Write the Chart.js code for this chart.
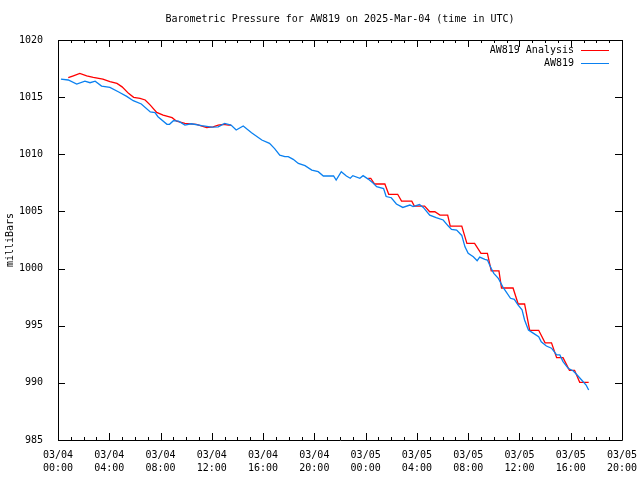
<!DOCTYPE html>
<html>
<head>
<meta charset="utf-8">
<script src="https://cdn.jsdelivr.net/npm/chart.js@4"></script>
<style>
  html, body { margin: 0; padding: 0; background: #fff; }
  #wrap { width: 640px; height: 480px; }
</style>
</head>
<body>
<div id="wrap"><canvas id="myChart" width="640" height="480"></canvas></div>
<script>
// Horas desde 03/04 00:00 UTC e pressão (mb)
const stationHours = [0.23, 0.8, 1.46, 2.1, 2.5, 2.9, 3.4, 4.05, 4.7, 5.36, 5.87, 6.5, 7.2, 7.57, 7.8, 8.5, 8.7, 9.0, 9.4, 9.9,
  10.4, 11.2, 12.0, 12.5, 13.0, 13.5, 13.9, 14.45, 15.1, 15.9, 16.5, 16.9, 17.3, 17.7, 17.96, 18.35, 18.75, 19.27, 19.8, 20.3,
  20.7, 21.2, 21.5, 21.7, 22.1, 22.5, 22.8, 23.0, 23.55, 23.8, 24.2, 24.6, 24.86, 25.4, 25.6, 26.0, 26.4, 26.9, 27.45, 27.7,
  28.2, 28.5, 29.0, 29.5, 30.05, 30.45, 30.7, 31.1, 31.5, 31.75, 32.0, 32.4, 32.7, 32.9, 33.3, 33.5, 33.8, 34.0, 34.35, 34.7,
  35.3, 35.6, 35.9, 36.2, 36.4, 36.7, 37.1, 37.5, 37.7, 38.1, 38.5, 38.9, 39.15, 39.4, 39.8, 40.2, 40.5, 40.85, 41.2, 41.4];
const stationPressure = [1016.58, 1016.5, 1016.15, 1016.4, 1016.26, 1016.4, 1015.97, 1015.86, 1015.47, 1015.07, 1014.69, 1014.4, 1013.7, 1013.64, 1013.29, 1012.62, 1012.62, 1012.94, 1012.9, 1012.56,
  1012.67, 1012.5, 1012.38, 1012.4, 1012.7, 1012.56, 1012.12, 1012.47, 1011.89, 1011.25, 1010.96, 1010.5, 1009.93, 1009.8, 1009.8, 1009.56, 1009.2, 1009.0, 1008.62, 1008.48,
  1008.1, 1008.1, 1008.1, 1007.75, 1008.48, 1008.1, 1007.9, 1008.13, 1007.9, 1008.13, 1007.83, 1007.46, 1007.16, 1007.0, 1006.3, 1006.2, 1005.65, 1005.35, 1005.56, 1005.42,
  1005.6, 1005.35, 1004.68, 1004.45, 1004.25, 1003.72, 1003.43, 1003.37, 1002.9, 1001.9, 1001.33, 1001.04, 1000.69, 1001.0, 1000.8, 1000.75, 1000.0, 999.58, 999.15, 998.4,
  997.4, 997.3, 996.8, 996.4, 995.5, 994.62, 994.33, 994.04, 993.6, 993.22, 993.03, 992.44, 992.44, 991.86, 991.27, 991.04, 990.69, 990.25, 989.81, 989.37];

const analysisHours = [0.8, 1.2, 1.7, 2.24, 2.75, 3.5, 4.05, 4.6, 5.0, 5.5, 5.9, 6.4, 6.8, 7.2, 7.7, 8.2, 8.9, 9.25, 9.9, 10.8,
  11.6, 12.1, 12.5, 12.9, 13.3, 13.5, 19.0,
  24.2, 24.4, 24.7, 25.5, 25.8, 26.5, 26.8, 27.6, 27.8, 28.6, 29.0, 29.4, 29.8, 30.4, 30.6, 31.5, 31.9, 32.5, 33.0, 33.5,
  33.8, 34.4, 34.6, 35.5, 35.9, 36.4, 36.8, 37.5, 38.0, 38.5, 38.9, 39.4, 39.9, 40.3, 40.7, 41.4];
const analysisPressure = [1016.7, 1016.87, 1017.07, 1016.87, 1016.73, 1016.58, 1016.35, 1016.2, 1015.9, 1015.33, 1014.98, 1014.9, 1014.75, 1014.3, 1013.67, 1013.43, 1013.2, 1012.9, 1012.7, 1012.62,
  1012.33, 1012.4, 1012.56, 1012.62, 1012.56, 1012.56, null,
  1007.9, 1007.9, 1007.4, 1007.4, 1006.5, 1006.5, 1005.9, 1005.9, 1005.47, 1005.47, 1004.97, 1004.97, 1004.68, 1004.68, 1003.72, 1003.72, 1002.2, 1002.2, 1001.33, 1001.33,
  999.8, 999.8, 998.3, 998.3, 996.9, 996.9, 994.6, 994.6, 993.5, 993.5, 992.2, 992.2, 991.1, 991.1, 990.05, 990.05];

// Rótulos do eixo X (a cada 4 horas)
const tickDays = ['03/04', '03/04', '03/04', '03/04', '03/04', '03/04', '03/05', '03/05', '03/05', '03/05', '03/05', '03/05'];
const tickTimes = ['00:00', '04:00', '08:00', '12:00', '16:00', '20:00', '00:00', '04:00', '08:00', '12:00', '16:00', '20:00'];

const chartTitle = 'Barometric Pressure for AW819 on 2025-Mar-04 (time in UTC)';
const FONT = '"DejaVu Sans Mono", "Liberation Mono", monospace';

function toPoints(xs, ys) {
    return xs.map((x, i) => ({ x: x, y: ys[i] }));
}

// Moldura, marcas, título e legenda no estilo gnuplot
const framePlugin = {
    id: 'frame',
    afterDraw(chart) {
        const ctx = chart.ctx;
        const a = chart.chartArea;
        const xs = chart.scales.x;
        const ys = chart.scales.y;
        ctx.save();
        ctx.strokeStyle = '#000';
        ctx.lineWidth = 1;
        ctx.beginPath();
        ctx.rect(Math.round(a.left) + 0.5, Math.round(a.top) + 0.5, Math.round(a.right - a.left), Math.round(a.bottom - a.top));
        // marcas do eixo X: principais a cada 4h, secundárias a cada hora
        for (let h = 0; h <= 44; h++) {
            const px = Math.round(xs.getPixelForValue(h)) + 0.5;
            const len = h % 4 === 0 ? 7 : 3;
            ctx.moveTo(px, a.bottom);
            ctx.lineTo(px, a.bottom - len);
            ctx.moveTo(px, a.top);
            ctx.lineTo(px, a.top + len);
        }
        // marcas do eixo Y
        for (let p = 985; p <= 1020; p += 5) {
            const py = Math.round(ys.getPixelForValue(p)) + 0.5;
            ctx.moveTo(a.left, py);
            ctx.lineTo(a.left + 7, py);
            ctx.moveTo(a.right, py);
            ctx.lineTo(a.right - 7, py);
        }
        ctx.stroke();

        // título
        ctx.fillStyle = '#000';
        ctx.font = '10px ' + FONT;
        ctx.textAlign = 'center';
        ctx.textBaseline = 'middle';
        ctx.fillText(chartTitle, (a.left + a.right) / 2, 19);

        // legenda
        ctx.textAlign = 'right';
        chart.data.datasets.forEach((ds, i) => {
            const y = 50 + i * 13;
            ctx.fillStyle = '#000';
            ctx.fillText(ds.label, 574, y);
            ctx.strokeStyle = ds.borderColor;
            ctx.beginPath();
            ctx.moveTo(581, y + 0.5);
            ctx.lineTo(609, y + 0.5);
            ctx.stroke();
        });
        ctx.restore();
    }
};

const ctx = document.getElementById('myChart').getContext('2d');
const myChart = new Chart(ctx, {
    type: 'line',
    data: {
        datasets: [{
            label: 'AW819 Analysis',
            data: toPoints(analysisHours, analysisPressure),
            borderColor: '#ff0000',
            borderWidth: 1.3,
            pointRadius: 0,
            tension: 0,
            spanGaps: false,
            order: 1
        }, {
            label: 'AW819',
            data: toPoints(stationHours, stationPressure),
            borderColor: '#0a80f0',
            borderWidth: 1.3,
            pointRadius: 0,
            tension: 0,
            order: 0
        }]
    },
    options: {
        responsive: false,
        animation: false,
        layout: { padding: { top: 40, right: 18, left: 0, bottom: 0 } },
        plugins: {
            legend: { display: false },
            title: { display: false },
            tooltip: { enabled: false }
        },
        scales: {
            x: {
                type: 'linear',
                min: 0,
                max: 44,
                grid: { display: false },
                border: { display: false },
                afterFit: scale => { scale.height = 40; },
                ticks: {
                    stepSize: 4,
                    autoSkip: false,
                    maxRotation: 0,
                    padding: 1,
                    color: '#000',
                    font: { family: FONT, size: 10, lineHeight: 1.3 },
                    callback: v => [tickDays[v / 4], tickTimes[v / 4]]
                }
            },
            y: {
                min: 985,
                max: 1020,
                grid: { display: false },
                border: { display: false },
                afterFit: scale => { scale.width = 58; },
                title: {
                    display: true,
                    text: 'milliBars',
                    color: '#000',
                    font: { family: FONT, size: 10 },
                    padding: { top: 4, bottom: 0 }
                },
                ticks: {
                    stepSize: 5,
                    padding: 7,
                    color: '#000',
                    font: { family: FONT, size: 10 },
                    callback: v => String(v)
                }
            }
        }
    },
    plugins: [framePlugin]
});
</script>
</body>
</html>
